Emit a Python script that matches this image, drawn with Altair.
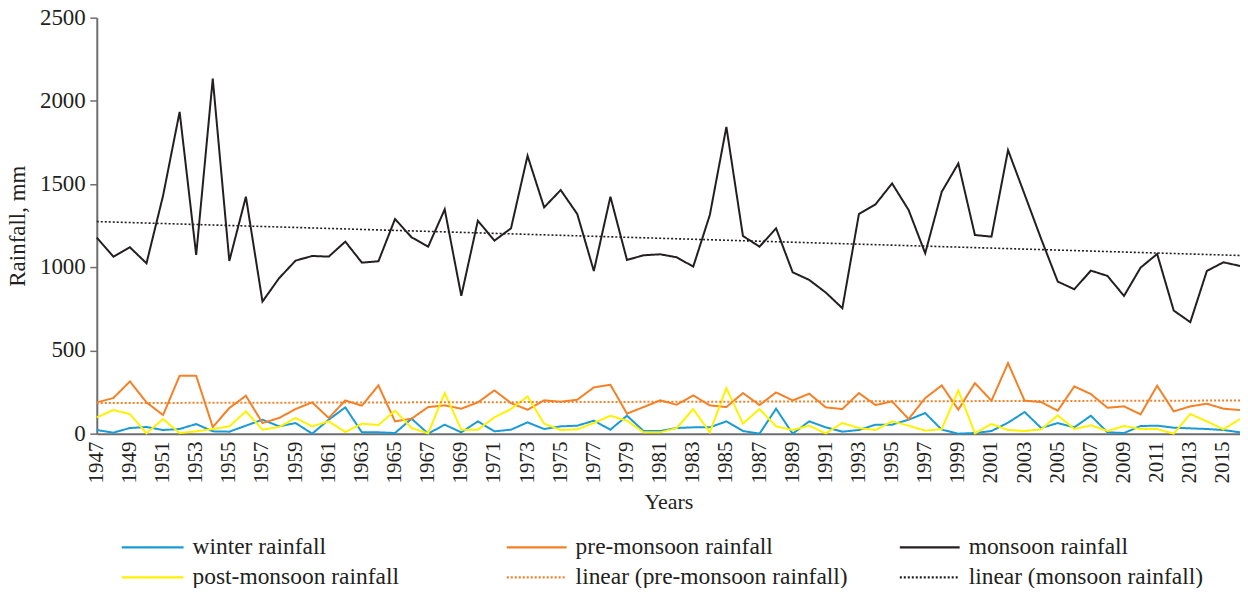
import altair as alt
import pandas as pd

years = list(range(1947, 2017))

winter = [22, 6, 34, 40, 22, 28, 58, 14, 12, 48, 84, 44, 64, 0, 84, 158, 8, 8,
          4, 90, 0, 54, 8, 74, 14, 24, 68, 28, 44, 48, 78, 24, 108, 16, 16,
          34, 38, 38, 74, 16, 0, 150, 0, 74, 38, 12, 22, 54, 54, 84, 124, 24,
          0, 4, 16, 66, 130, 34, 64, 38, 108, 8, 4, 46, 48, 36, 32, 28, 22, 8]

pre_monsoon = [188, 214, 314, 188, 112, 348, 348, 40, 154, 228, 64, 94, 148, 188, 94, 200, 168, 290,
               74, 90, 160, 170, 150, 188, 260, 184, 144, 200, 192, 204, 278, 294, 120, 160, 200,
               174, 230, 170, 160, 244, 172, 248, 200, 240, 158, 148, 244, 172, 194, 88, 214, 290,
               144, 304, 198, 424, 198, 190, 138, 284, 238, 156, 164, 116, 288, 134, 164, 180, 150, 142]

monsoon = [1178, 1064, 1120, 1024, 1430, 1934, 1074, 2134, 1038, 1424, 794, 934, 1040, 1068, 1064, 1154, 1028, 1036,
           1290, 1180, 1124, 1348, 828, 1280, 1160, 1234, 1670, 1360, 1464, 1320, 978, 1424, 1044, 1072, 1078,
           1060, 1004, 1314, 1844, 1188, 1124, 1234, 970, 924, 848, 754, 1320, 1378, 1504, 1344, 1084, 1454,
           1624, 1194, 1184, 1704, 1438, 1170, 914, 868, 980, 948, 828, 998, 1080, 740, 670, 978, 1030, 1008]

post_monsoon = [98, 142, 118, 2, 88, 4, 14, 28, 44, 134, 24, 40, 94, 44, 74, 10, 60, 52,
                138, 34, 2, 244, 24, 24, 98, 148, 224, 60, 22, 26, 64, 108, 78, 8, 8,
                34, 148, 8, 274, 60, 148, 44, 22, 48, 2, 64, 34, 22, 74, 48, 18, 28,
                260, 2, 58, 22, 16, 26, 110, 28, 50, 16, 46, 28, 28, 0, 118, 74, 26, 88]

series_names = ["winter rainfall", "pre-monsoon rainfall", "monsoon rainfall",
                "post-monsoon rainfall", "linear (pre-monsoon rainfall)", "linear (monsoon rainfall)"]
series_colors = ["#1a9ad6", "#f58025", "#231f20", "#fff200", "#f58025", "#231f20"]
series_dash = [[1, 0], [1, 0], [1, 0], [1, 0], [2, 2], [2, 2]]
x_tick_years = list(range(1947, 2016, 2))
y_tick_values = [0, 500, 1000, 1500, 2000, 2500]

rows = []
for name, vals in [("winter rainfall", winter), ("pre-monsoon rainfall", pre_monsoon),
                   ("monsoon rainfall", monsoon), ("post-monsoon rainfall", post_monsoon)]:
    for y, v in zip(years, vals):
        rows.append({"year": y, "value": v, "series": name})
df = pd.DataFrame(rows)

FONT = "Liberation Serif"
TEXT_COLOR = "#231f20"
W, H = 1146, 417

x_scale = alt.Scale(domain=[1947, 2016], nice=False, zero=False)
y_scale = alt.Scale(domain=[0, 2500], nice=False)
color_scale = alt.Scale(domain=series_names, range=series_colors)
dash_scale = alt.Scale(domain=series_names, range=series_dash)

x_axis = alt.Axis(values=x_tick_years, labels=False, ticks=False, grid=False,
                  title="Years", titleFontSize=22, titleFont=FONT, titlePadding=58)
y_axis = alt.Axis(values=y_tick_values, labels=False, grid=False,
                  title="Rainfall, mm", titleFontSize=23, titleFont=FONT,
                  tickSize=7, titlePadding=60)

base = alt.Chart(df)

lines = base.mark_line(strokeWidth=2).encode(
    x=alt.X("year:Q", scale=x_scale, axis=x_axis),
    y=alt.Y("value:Q", scale=y_scale, axis=y_axis),
    color=alt.Color("series:N", scale=color_scale, legend=None),
    strokeDash=alt.StrokeDash("series:N", scale=dash_scale, legend=None),
    order=alt.Order("year:Q"),
)


def trend(src, name, width):
    return base.transform_filter(alt.datum.series == src).transform_regression(
        "year", "value", method="linear", extent=[1947, 2016]
    ).transform_calculate(series=f"'{name}'").mark_line(strokeWidth=width).encode(
        x=alt.X("year:Q", scale=x_scale, axis=x_axis),
        y=alt.Y("value:Q", scale=y_scale, axis=y_axis),
        color=alt.Color("series:N", scale=color_scale, legend=None),
        strokeDash=alt.StrokeDash("series:N", scale=dash_scale, legend=None))


trend_pre = trend("pre-monsoon rainfall", "linear (pre-monsoon rainfall)", 2)
trend_mon = trend("monsoon rainfall", "linear (monsoon rainfall)", 1.6)

# tick labels (serif)
y_labels = alt.Chart(pd.DataFrame({"value": y_tick_values})).mark_text(
    align="right", baseline="middle", font=FONT, fontSize=23, color=TEXT_COLOR, dx=-11
).encode(y=alt.Y("value:Q", scale=y_scale, axis=y_axis), x=alt.value(0),
         text=alt.Text("value:Q", format="d"))

x_labels = alt.Chart(pd.DataFrame({"year": x_tick_years})).mark_text(
    align="right", baseline="middle", angle=270, font=FONT, fontSize=21, color=TEXT_COLOR
).encode(x=alt.X("year:Q", scale=x_scale, axis=x_axis), y=alt.value(H + 8),
         text=alt.Text("year:Q", format="d"))

# legend (3 columns x 2 rows)
col_sym = [(25, 87), (411, 471), (805, 865)]
col_txt = [96, 480, 874]
row_y = [531, 561]
legend_layers = []
for i, name in enumerate(series_names):
    c, r = i % 3, i // 3
    d = pd.DataFrame({"series": [name]})
    legend_layers.append(alt.Chart(d).mark_rule(strokeWidth=2.2).encode(
        x=alt.value(col_sym[c][0]), x2=alt.value(col_sym[c][1]), y=alt.value(row_y[r]),
        color=alt.Color("series:N", scale=color_scale, legend=None),
        strokeDash=alt.StrokeDash("series:N", scale=dash_scale, legend=None)))
    legend_layers.append(alt.Chart(d).mark_text(
        align="left", baseline="middle", font=FONT, fontSize=23.5, color=TEXT_COLOR
    ).encode(x=alt.value(col_txt[c]), y=alt.value(row_y[r]), text="series:N"))

chart = alt.layer(lines, trend_pre, trend_mon, y_labels, x_labels, *legend_layers).properties(
    width=W, height=H,
    autosize=alt.AutoSizeParams(type="none"),
    padding={"left": 89, "top": 9, "right": 0, "bottom": 154},
).configure_view(stroke=None).configure_axis(
    titleColor=TEXT_COLOR, titleFontWeight="normal",
    domainColor="#6d6e71", domainWidth=2, tickColor="#6d6e71", tickWidth=1.5,
)

chart.save("out.html", embed_options={"renderer": "svg", "actions": False})
